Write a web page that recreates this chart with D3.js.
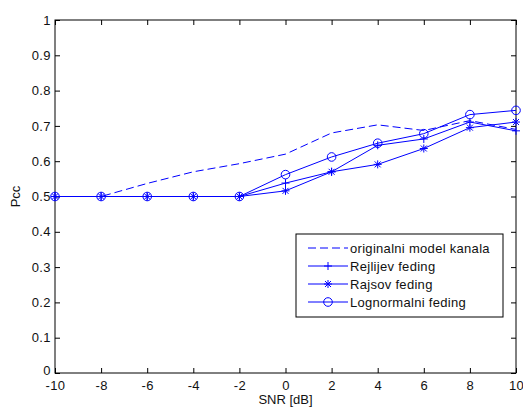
<!DOCTYPE html>
<html>
<head>
<meta charset="utf-8">
<script src="https://cdn.jsdelivr.net/npm/d3@7"></script>
<style>
  body { margin: 0; background: #fff; }
  text { font-family: "Liberation Sans", Arial, sans-serif; }
</style>
</head>
<body>
<svg id="chart"></svg>
<script>
// SNR vs Pcc
const snr = [-10, -8, -6, -4, -2, 0, 2, 4, 6, 8, 10];
const original = [0.5, 0.5, 0.537, 0.57, 0.593, 0.62, 0.68, 0.703, 0.687, 0.715, 0.69];
const rejlijev = [0.5, 0.5, 0.5, 0.5, 0.5, 0.538, 0.57, 0.645, 0.663, 0.711, 0.686];
const rajsov = [0.5, 0.5, 0.5, 0.5, 0.5, 0.516, 0.57, 0.591, 0.636, 0.695, 0.711];
const lognormal = [0.5, 0.5, 0.5, 0.5, 0.5, 0.562, 0.612, 0.651, 0.678, 0.732, 0.744];
const xTicks = [-10, -8, -6, -4, -2, 0, 2, 4, 6, 8, 10];
const yTicks = [0, 0.1, 0.2, 0.3, 0.4, 0.5, 0.6, 0.7, 0.8, 0.9, 1];

const margin = { top: 20, right: 7, bottom: 37, left: 55 },
    width = 523 - margin.left - margin.right,
    height = 410 - margin.top - margin.bottom;

const svg = d3.select("#chart")
    .attr("width", 523)
    .attr("height", 410)
    .append("g")
    .attr("transform", `translate(${margin.left},${margin.top})`);

const x = d3.scaleLinear().domain([-10, 10]).range([0, width]);
const y = d3.scaleLinear().domain([0, 1]).range([height, 0]);
const blue = "#0000ff";
const fontSize = "13px";

// frame with inward ticks on all sides
svg.append("rect")
    .attr("width", width).attr("height", height)
    .attr("fill", "none").attr("stroke", "#000").attr("stroke-width", 1);

const tickLen = 5;
svg.append("g")
    .attr("transform", `translate(0,${height})`)
    .call(d3.axisBottom(x).tickValues(xTicks).tickSize(-tickLen).tickPadding(8).tickFormat(d => String(d)))
    .call(g => g.select(".domain").remove());
svg.append("g")
    .call(d3.axisTop(x).tickValues(xTicks).tickSize(-tickLen).tickFormat(""))
    .call(g => g.select(".domain").remove());
svg.append("g")
    .attr("class", "yaxis")
    .call(d3.axisLeft(y).tickValues(yTicks).tickSize(-tickLen).tickPadding(4).tickFormat(d => d === 0 || d === 1 ? d : d3.format(".1f")(d)))
    .call(g => g.select(".domain").remove());
svg.append("g")
    .attr("transform", `translate(${width},0)`)
    .call(d3.axisRight(y).tickValues(yTicks).tickSize(-tickLen).tickFormat(""))
    .call(g => g.select(".domain").remove());

svg.selectAll(".tick text")
    .style("font-size", fontSize)
    .style("letter-spacing", "0.4px")
    .style("font-family", "'Liberation Sans', Arial, sans-serif")
    .attr("fill", "#111");
svg.selectAll(".tick line").attr("stroke", "#000");

// the bottom "0" sits a little above the "-10", as in MATLAB
svg.select(".yaxis").selectAll(".tick text").filter(d => d === 0).attr("dy", "0.1em");

svg.append("text")
    .attr("x", width / 2)
    .attr("y", height + 31)
    .attr("text-anchor", "middle")
    .style("font-size", fontSize)
    .attr("fill", "#111")
    .text("SNR [dB]");

svg.append("text")
    .attr("transform", `translate(${-35},${y(0.5)}) rotate(-90)`)
    .attr("text-anchor", "middle")
    .style("font-size", fontSize)
    .attr("fill", "#111")
    .text("Pcc");

const line = d3.line().x((d, i) => x(snr[i])).y(d => y(d));

const series = [
    { name: "originalni model kanala", values: original, dash: "8,4", marker: null },
    { name: "Rejlijev feding", values: rejlijev, dash: null, marker: "plus" },
    { name: "Rajsov feding", values: rajsov, dash: null, marker: "star" },
    { name: "Lognormalni feding", values: lognormal, dash: null, marker: "circle" }
];

function drawMarker(g, type, cx, cy) {
    const s = 4;
    if (type === "plus" || type === "star") {
        g.append("line").attr("x1", cx - s).attr("x2", cx + s).attr("y1", cy).attr("y2", cy);
        g.append("line").attr("x1", cx).attr("x2", cx).attr("y1", cy - s).attr("y2", cy + s);
    }
    if (type === "star") {
        const d = 3;
        g.append("line").attr("x1", cx - d).attr("x2", cx + d).attr("y1", cy - d).attr("y2", cy + d);
        g.append("line").attr("x1", cx - d).attr("x2", cx + d).attr("y1", cy + d).attr("y2", cy - d);
    }
    if (type === "circle") {
        g.append("circle").attr("cx", cx).attr("cy", cy).attr("r", 4.3).attr("fill", "none");
    }
}

series.forEach(s => {
    svg.append("path")
        .datum(s.values)
        .attr("fill", "none")
        .attr("stroke", blue)
        .attr("stroke-width", 1)
        .attr("stroke-dasharray", s.dash)
        .attr("d", line);
    if (s.marker) {
        const mg = svg.append("g").attr("stroke", blue).attr("stroke-width", 1);
        s.values.forEach((v, i) => drawMarker(mg, s.marker, x(snr[i]), y(v)));
    }
});

// legend
const lx = 296 - margin.left, ly = 234 - margin.top;
svg.append("rect")
    .attr("x", lx).attr("y", ly)
    .attr("width", 207).attr("height", 83)
    .attr("fill", "#fff").attr("stroke", "#000");

const legend = svg.selectAll(".legend")
    .data(series)
    .enter().append("g")
    .attr("class", "legend")
    .attr("transform", (d, i) => `translate(${lx},${ly + 14 + i * 18})`);

legend.append("line")
    .attr("x1", 12).attr("x2", 52)
    .attr("stroke", blue)
    .attr("stroke-dasharray", d => d.dash);

legend.each(function (d) {
    if (d.marker) {
        const mg = d3.select(this).append("g").attr("stroke", blue);
        drawMarker(mg, d.marker, 32, 0);
    }
});

legend.append("text")
    .attr("x", 54)
    .attr("dy", "0.35em")
    .style("font-size", fontSize)
    .style("letter-spacing", "0.3px")
    .attr("fill", "#111")
    .text(d => d.name);
</script>
</body>
</html>
